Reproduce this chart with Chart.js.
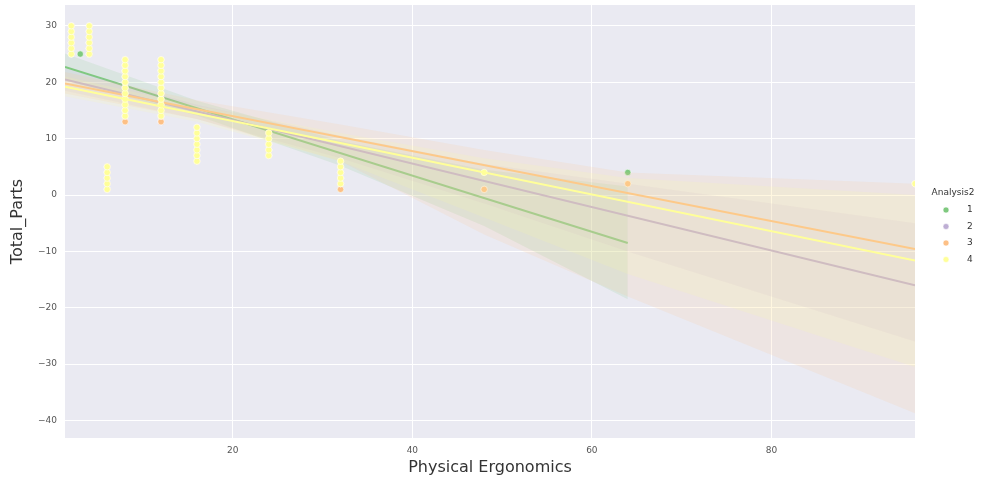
<!DOCTYPE html>
<html>
<head>
<meta charset="utf-8">
<script src="https://cdn.jsdelivr.net/npm/chart.js@4.4.1/dist/chart.umd.min.js"></script>
<style>
  html, body { margin: 0; padding: 0; background: #ffffff; }
  canvas { display: block; }
</style>
</head>
<body>
<canvas id="chart" width="982" height="486"></canvas>
<script>
// Hue levels and their palette (Accent)
const groups = ['1', '2', '3', '4'];
const palette = ['#7fc97f', '#beaed4', '#fdc086', '#ffff99'];

// Observations per Analysis2 level: x = Physical Ergonomics, y = Total_Parts
const g1X = [2, 3, 4, 8, 8, 8, 12, 12, 12, 12, 32, 64];
const g1Y = [25, 25, 25, 19, 21, 22, 19, 20, 21, 22, 1, 4];

const g2X = [2, 4, 8, 12, 12, 16, 24, 32, 48, 96];
const g2Y = [27, 27, 16, 13, 14, 9, 8, 3, 1, 2];

const g3X = [2, 2, 2, 2, 2, 2, 4, 4, 4, 4, 4, 4, 6, 6, 6, 6, 6,
             8, 8, 8, 8, 8, 8, 8, 8, 8, 8, 8, 8,
             12, 12, 12, 12, 12, 12, 12, 12, 12, 12, 12, 12,
             16, 16, 16, 16, 16, 16, 16, 24, 24, 24, 24, 24,
             32, 32, 32, 32, 32, 32, 48, 64, 96];
const g3Y = [25, 26, 27, 28, 29, 30, 25, 26, 27, 28, 29, 30, 1, 2, 3, 4, 5,
             13, 14, 15, 16, 17, 18, 19, 20, 21, 22, 23, 24,
             13, 14, 15, 16, 17, 18, 19, 20, 21, 22, 23, 24,
             6, 7, 8, 9, 10, 11, 12, 7, 8, 9, 10, 11,
             1, 2, 3, 4, 5, 6, 1, 2, 2];

const g4X = [2, 2, 2, 2, 2, 2, 4, 4, 4, 4, 4, 4, 6, 6, 6, 6, 6,
             8, 8, 8, 8, 8, 8, 8, 8, 8, 8, 8,
             12, 12, 12, 12, 12, 12, 12, 12, 12, 12, 12,
             16, 16, 16, 16, 16, 16, 16, 24, 24, 24, 24, 24,
             32, 32, 32, 32, 32, 48, 96];
const g4Y = [25, 26, 27, 28, 29, 30, 25, 26, 27, 28, 29, 30, 1, 2, 3, 4, 5,
             14, 15, 16, 17, 18, 19, 20, 21, 22, 23, 24,
             14, 15, 16, 17, 18, 19, 20, 21, 22, 23, 24,
             6, 7, 8, 9, 10, 11, 12, 7, 8, 9, 10, 11,
             2, 3, 4, 5, 6, 4, 2];

// Fitted regression lines (start / end of each fit)
const fitX = [[1.3, 64], [1.3, 96], [1.3, 96], [1.3, 96]];
const fitY = [[22.7, -8.5], [20.5, -16.0], [19.8, -9.6], [19.2, -11.6]];

// Confidence bands of each fit
const bandX = [[1.3, 16, 32, 48, 64], [1.3, 16, 32, 48, 64, 96], [1.3, 16, 32, 48, 64, 96], [1.3, 16, 32, 48, 64, 96]];
const bandLow = [[20.3, 14.1, 5.2, -5.5, -18.5],
                 [18.5, 13.5, 6.5, -1.5, -10.0, -26.0],
                 [18.0, 13.5, 6.0, -7.0, -18.0, -38.7],
                 [17.5, 13.0, 6.0, -4.0, -14.0, -30.5]];
const bandHigh = [[25.1, 16.7, 9.6, 4.5, 1.5],
                  [22.5, 16.0, 10.5, 5.5, 2.0, -5.0],
                  [21.8, 16.8, 12.5, 8.0, 4.0, 2.0],
                  [21.0, 15.8, 11.0, 6.5, 3.0, 0.0]];

// Axis limits and ticks
const xMin = 1.3, xMax = 96;
const yMin = -43.1, yMax = 33.7;
const xTicks = [20, 40, 60, 80];
const yTicks = [-40, -30, -20, -10, 0, 10, 20, 30];

const scatterX = [g1X, g2X, g3X, g4X];
const scatterY = [g1Y, g2Y, g3Y, g4Y];

function rgba(hex, a) {
  const n = parseInt(hex.slice(1), 16);
  return `rgba(${(n >> 16) & 255},${(n >> 8) & 255},${n & 255},${a})`;
}
function pairs(xs, ys) { return xs.map((x, i) => ({ x: x, y: ys[i] })); }

// Datasets in painting order: for each level, points, then band, then fit line
const datasets = [];
groups.forEach((g, i) => {
  datasets.push({
    label: g,
    data: pairs(scatterX[i], scatterY[i]),
    backgroundColor: palette[i],
    borderColor: '#ffffff',
    borderWidth: 0.6,
    pointRadius: 3.2,
    showLine: false
  });
  const lowIndex = datasets.length;
  datasets.push({
    label: g + ' low',
    data: pairs(bandX[i], bandLow[i]),
    showLine: true,
    borderWidth: 0,
    borderColor: 'rgba(0,0,0,0)',
    pointRadius: 0,
    fill: false
  });
  datasets.push({
    label: g + ' high',
    data: pairs(bandX[i], bandHigh[i]),
    showLine: true,
    borderWidth: 0,
    borderColor: 'rgba(0,0,0,0)',
    pointRadius: 0,
    backgroundColor: rgba(palette[i], 0.15),
    fill: { target: lowIndex }
  });
  datasets.push({
    label: g + ' fit',
    data: pairs(fitX[i], fitY[i]),
    showLine: true,
    borderColor: palette[i],
    borderWidth: 2,
    pointRadius: 0,
    fill: false
  });
});
// later datasets paint on top
datasets.forEach((d, i) => { d.order = datasets.length - i; });

const plotBackground = {
  id: 'plotBackground',
  beforeDraw(chart) {
    const { ctx, chartArea: a } = chart;
    ctx.save();
    ctx.fillStyle = '#eaeaf2';
    ctx.fillRect(a.left, a.top, a.right - a.left, a.bottom - a.top);
    ctx.restore();
  }
};

const hueLegend = {
  id: 'hueLegend',
  afterDraw(chart) {
    const ctx = chart.ctx;
    ctx.save();
    ctx.font = '9px "DejaVu Sans"';
    ctx.fillStyle = '#333333';
    ctx.textBaseline = 'middle';
    ctx.textAlign = 'center';
    ctx.fillText('Analysis2', 953, 193);
    groups.forEach((g, i) => {
      const y = 210 + i * 16.5;
      ctx.beginPath();
      ctx.arc(946, y, 3, 0, Math.PI * 2);
      ctx.fillStyle = palette[i];
      ctx.fill();
      ctx.lineWidth = 0.6;
      ctx.strokeStyle = '#ffffff';
      ctx.stroke();
      ctx.fillStyle = '#333333';
      ctx.textAlign = 'left';
      ctx.fillText(g, 967, y);
    });
    ctx.restore();
  }
};

new Chart(document.getElementById('chart'), {
  type: 'scatter',
  data: { datasets: datasets },
  options: {
    responsive: false,
    animation: false,
    layout: { padding: { top: 5, right: 67, left: 0, bottom: 0 } },
    plugins: {
      legend: { display: false },
      tooltip: { enabled: false },
      title: { display: false }
    },
    scales: {
      x: {
        type: 'linear',
        min: xMin,
        max: xMax,
        afterBuildTicks(scale) { scale.ticks = xTicks.map(v => ({ value: v })); },
        afterFit(scale) { scale.height = 48; scale.paddingLeft = 0; scale.paddingRight = 0; },
        grid: { color: '#ffffff', lineWidth: 1, drawTicks: false },
        border: { display: false },
        ticks: { font: { family: 'DejaVu Sans', size: 9 }, color: '#555555', padding: 7 },
        title: {
          display: true,
          text: 'Physical Ergonomics',
          font: { family: 'DejaVu Sans', size: 16 },
          color: '#333333',
          padding: { top: 0, bottom: 9 }
        }
      },
      y: {
        type: 'linear',
        min: yMin,
        max: yMax,
        afterBuildTicks(scale) { scale.ticks = yTicks.map(v => ({ value: v })); },
        afterFit(scale) { scale.width = 65; scale.paddingTop = 0; scale.paddingBottom = 0; },
        grid: { color: '#ffffff', lineWidth: 1, drawTicks: false },
        border: { display: false },
        ticks: {
          font: { family: 'DejaVu Sans', size: 9 },
          color: '#555555',
          padding: 8,
          callback: v => (v < 0 ? '\u2212' + Math.abs(v) : String(v))
        },
        title: {
          display: true,
          text: 'Total_Parts',
          font: { family: 'DejaVu Sans', size: 16 },
          color: '#333333',
          padding: { top: 8, bottom: 3 }
        }
      }
    }
  },
  plugins: [plotBackground, hueLegend]
});
</script>
</body>
</html>
